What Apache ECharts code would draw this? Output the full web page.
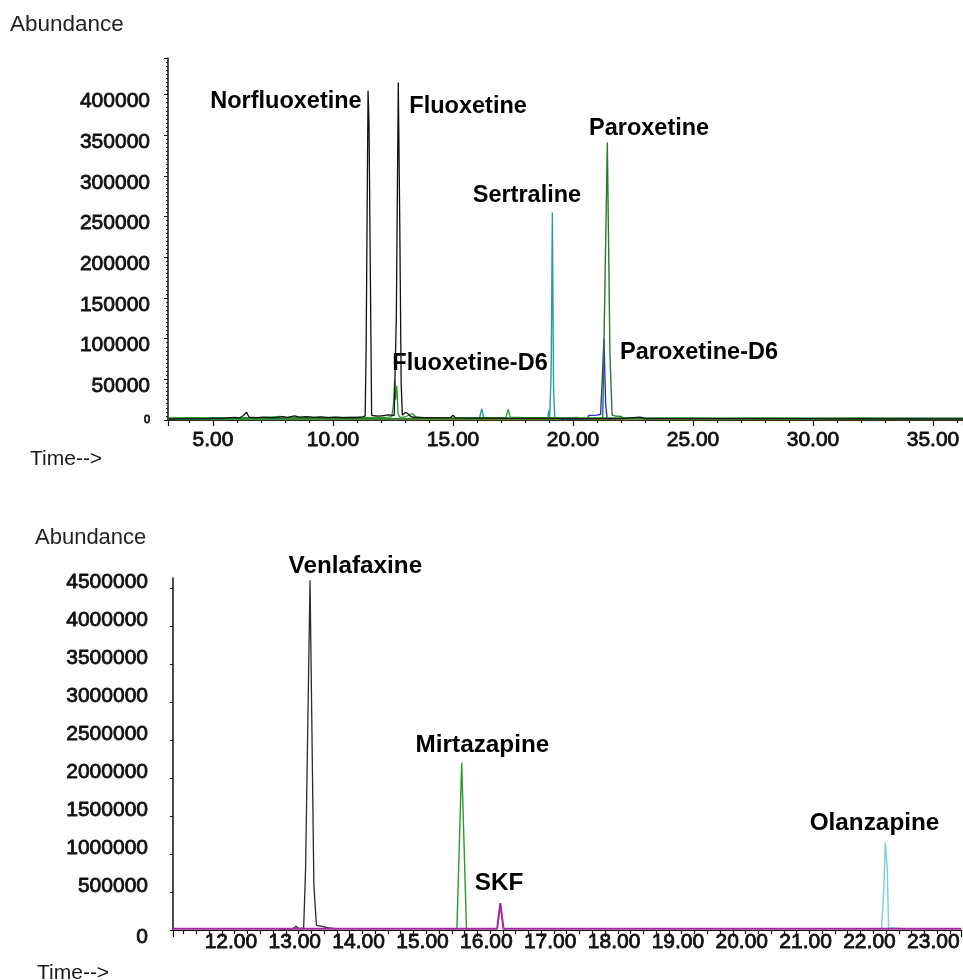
<!DOCTYPE html>
<html>
<head>
<meta charset="utf-8">
<script src="https://cdn.jsdelivr.net/npm/echarts@6/dist/echarts.min.js"></script>
<style>
html,body{margin:0;padding:0;background:#fff;}
#chart{width:963px;height:980px;}
</style>
</head>
<body>
<div id="chart"></div>
<script>
// ---------- Top chromatogram (SSRIs) ----------
const topXRange = [3.125, 36.25];
const topYRange = [0, 445000];
const olivebase = [[3.125, 800], [36.25, 800]];
const magentaTrace = [[19.6, 1000], [19.8, 3000], [20.2, 3200], [20.4, 1000]];
const sertralineTrace = [[3.15, 1000], [6, 1200], [9, 1400], [12, 1600], [15.5, 2000], [16.1, 2200], [16.2, 14000], [16.28, 2500], [17, 2200], [18, 2300], [18.95, 2500], [18.99, 12000], [19.03, 3000], [19.09, 60000], [19.14, 255000], [19.19, 40000], [19.24, 3000], [19.5, 2500], [20.5, 2000], [22, 1800], [36.25, 1800]];
const paroxetineD6Trace = [[19.5, 800], [20.6, 1500], [20.65, 5500], [21.0, 6000], [21.15, 7000], [21.22, 50000], [21.29, 100000], [21.36, 20000], [21.42, 2000], [21.6, 800]];
const paroxetineTrace = [[3.15, 1500], [10, 1500], [19, 1500], [21.1, 1800], [21.24, 3000], [21.43, 341000], [21.54, 80000], [21.63, 6000], [21.75, 5000], [22.0, 4500], [22.1, 2000], [30, 1600], [36.25, 1600]];
const fluoxetineD6Trace = [[3.15, 2500], [4, 2800], [5, 2600], [6, 3000], [7, 2900], [7.8, 4500], [8, 3000], [9, 3200], [10, 3100], [11, 3300], [11.8, 3000], [12.3, 3500], [12.45, 4000], [12.52, 20000], [12.57, 49000], [12.61, 25000], [12.66, 42000], [12.71, 8000], [12.78, 3500], [13, 3500], [13.3, 8000], [13.38, 10000], [13.45, 4000], [13.8, 3000], [14.5, 2900], [15.5, 3000], [16.5, 2800], [17.2, 3000], [17.3, 13000], [17.38, 3500], [18, 3000], [19, 2800], [20, 2600], [21, 2700], [22, 2600], [23, 2500], [24, 2600], [25, 2500], [26, 2400], [28, 2500], [30, 2400], [32, 2500], [34, 2400], [36.25, 2400]];
const fluoxetineTrace = [[3.15, 1200], [3.5, 1500], [3.9, 1300], [4.3, 1800], [4.7, 1600], [5.0, 2200], [5.3, 1900], [5.6, 2600], [5.9, 3200], [6.1, 2500], [6.25, 5200], [6.4, 9500], [6.5, 3400], [6.8, 3000], [7.1, 3600], [7.4, 2800], [7.7, 3300], [7.9, 4200], [8.1, 3100], [8.4, 5000], [8.6, 3500], [8.9, 4100], [9.2, 3200], [9.5, 3900], [9.8, 3000], [10.1, 3500], [10.4, 2900], [10.7, 3300], [11.0, 3100], [11.25, 3800], [11.34, 5000], [11.38, 86000], [11.46, 405000], [11.50, 366000], [11.55, 200000], [11.61, 6000], [11.7, 5200], [11.9, 4800], [12.1, 5500], [12.3, 6200], [12.55, 5800], [12.60, 6000], [12.64, 130000], [12.72, 415000], [12.78, 247000], [12.84, 45000], [12.89, 6000], [13.0, 9000], [13.1, 8500], [13.25, 4000], [13.5, 3000], [14, 2800], [14.5, 2500], [14.9, 3000], [15.0, 6000], [15.1, 2600], [15.6, 2400], [16.2, 2300], [16.8, 2200], [17.5, 2100], [18.2, 2000], [19, 2000], [20, 1800], [21, 1700], [22, 1800], [22.8, 3500], [23, 1800], [24, 1700], [25, 1600], [26, 1800], [27, 1700], [28, 1600], [29, 1700], [30, 1600], [31, 1500], [32, 1600], [33, 1500], [34, 1600], [35, 1500], [36, 1400], [36.25, 1400]];
const topLabels = [
  {name: 'Norfluoxetine', value: [8.04, 391400]},
  {name: 'Fluoxetine', value: [15.63, 385200]},
  {name: 'Sertraline', value: [18.08, 275700]},
  {name: 'Paroxetine', value: [23.17, 358200]},
  {name: 'Fluoxetine-D6', value: [15.71, 68900]},
  {name: 'Paroxetine-D6', value: [25.25, 82500]}
];

// ---------- Bottom chromatogram ----------
const botXRange = [11.234, 23.58];
const botYRange = [0, 4630000];
const skfTrace = [[11.234, 15000], [13, 15000], [15, 15000], [16.31, 15000], [16.36, 355000], [16.41, 15000], [18, 15000], [20, 15000], [22, 15000], [23.58, 15000]];
const venlafaxineTrace = [[12.9, 12000], [13.12, 20000], [13.16, 50000], [13.2, 20000], [13.28, 20000], [13.31, 800000], [13.38, 4600000], [13.44, 600000], [13.48, 60000], [13.55, 50000], [13.65, 30000], [13.8, 15000]];
const mirtazapineTrace = [[15.5, 15000], [15.68, 15000], [15.755, 2200000], [15.83, 15000], [16.0, 15000]];
const olanzapineTrace = [[22.2, 15000], [22.33, 20000], [22.36, 440000], [22.39, 1150000], [22.42, 790000], [22.44, 30000], [22.6, 20000], [22.7, 15000]];
const botLabels = [
  {name: 'Venlafaxine', value: [14.09, 4789000]},
  {name: 'Mirtazapine', value: [16.08, 2434000]},
  {name: 'SKF', value: [16.34, 618400]},
  {name: 'Olanzapine', value: [22.22, 1408000]}
];

const FONT = '"Liberation Sans", Arial, sans-serif';
const chart = echarts.init(document.getElementById('chart'), null, {renderer: 'canvas'});

function line(data, color, xi, width, z) {
  return {type: 'line', data: data, xAxisIndex: xi, yAxisIndex: xi, showSymbol: false, symbol: 'none',
    lineStyle: {color: color, width: width || 1.2}, silent: true, z: z || 2, animation: false};
}
function labels(data, xi, size) {
  return {type: 'scatter', data: data, xAxisIndex: xi, yAxisIndex: xi, symbolSize: 0, clip: false, silent: true, z: 10,
    itemStyle: {opacity: 1},
    label: {show: true, position: 'inside', formatter: '{b}', color: '#000', fontFamily: FONT, fontWeight: 'bold', fontSize: size}};
}
const tickLabel = {color: '#111', fontFamily: FONT, fontSize: 21, textBorderColor: '#111', textBorderWidth: 0.8};
const richTxt = {fontFamily: FONT, fontSize: 21, color: '#111', textBorderColor: '#111', textBorderWidth: 0.8};

const option = {
  backgroundColor: '#fff',
  animation: false,
  grid: [
    {left: 168, right: 0, top: 58, bottom: 560},
    {left: 173, right: 0, top: 578, bottom: 50}
  ],
  xAxis: [
    {type: 'value', gridIndex: 0, min: topXRange[0], max: topXRange[1], minInterval: 5, maxInterval: 5, splitNumber: 7,
      axisLine: {lineStyle: {color: '#111', width: 1}}, splitLine: {show: false},
      axisTick: {length: 6, lineStyle: {color: '#111', width: 1.2}},
      minorTick: {show: true, splitNumber: 5, length: 3, lineStyle: {color: '#111', width: 1.2}},
      axisLabel: Object.assign({margin: 10, showMinLabel: false, showMaxLabel: false, formatter: v => v.toFixed(2)}, tickLabel)},
    {type: 'value', gridIndex: 1, min: botXRange[0], max: botXRange[1], minInterval: 1, maxInterval: 1, splitNumber: 12,
      axisLine: {lineStyle: {color: '#111', width: 1}}, splitLine: {show: false},
      axisTick: {length: 7, lineStyle: {color: '#111', width: 1.2}},
      minorTick: {show: true, splitNumber: 5, length: 4, lineStyle: {color: '#111', width: 1.2}},
      axisLabel: Object.assign({margin: 2, showMinLabel: false, showMaxLabel: false, padding: [0, 0, 0, 18], formatter: v => v.toFixed(2)}, tickLabel)}
  ],
  yAxis: [
    {type: 'value', gridIndex: 0, min: topYRange[0], max: topYRange[1], minInterval: 50000, maxInterval: 50000,
      axisLine: {show: true, lineStyle: {color: '#111', width: 1.5}}, splitLine: {show: false},
      axisTick: {show: true, length: 4, lineStyle: {color: '#111', width: 1}},
      minorTick: {show: true, splitNumber: 10, length: 2, lineStyle: {color: '#111', width: 1}},
      axisLabel: Object.assign({margin: 18, showMaxLabel: false,
        formatter: v => v === 0 ? '{s|0}' : '{n|' + v + '}',
        rich: {s: {fontSize: 11, fontFamily: FONT, color: '#1a1a1a'}, n: Object.assign({padding: [14, 0, 0, 0]}, richTxt)}}, tickLabel)},
    {type: 'value', gridIndex: 1, min: botYRange[0], max: botYRange[1], interval: 500000,
      axisLine: {show: true, lineStyle: {color: '#111', width: 1.5}}, splitLine: {show: false},
      axisTick: {show: true, length: 3, lineStyle: {color: '#111', width: 1}},
      axisLabel: Object.assign({margin: 25, showMaxLabel: false,
        formatter: v => v === 0 ? '{z|0}' : '{n|' + v + '}',
        rich: {z: Object.assign({padding: [14, 0, 0, 0]}, richTxt), n: Object.assign({padding: [0, 0, 12, 0]}, richTxt)}}, tickLabel)}
  ],
  graphic: [
    {type: 'text', left: 10, top: 13, style: {text: 'Abundance', font: '22.5px ' + FONT, fill: '#222'}},
    {type: 'text', left: 30, top: 449, style: {text: 'Time-->', font: '21px ' + FONT, fill: '#1a1a1a'}},
    {type: 'text', left: 35, top: 527, style: {text: 'Abundance', font: '22px ' + FONT, fill: '#222'}},
    {type: 'text', left: 37, top: 963, style: {text: 'Time-->', font: '21px ' + FONT, fill: '#1a1a1a'}}
  ],
  series: [
    line(olivebase, '#9a8a2e', 0, 2, 1),
    line(magentaTrace, '#c040c0', 0, 1.2, 2),
    line(sertralineTrace, '#2a9ca0', 0, 1.4, 3),
    line(paroxetineD6Trace, '#2b2fc0', 0, 1.4, 4),
    line(paroxetineTrace, '#2c7a2c', 0, 1.4, 5),
    line(fluoxetineD6Trace, '#22a022', 0, 1.3, 6),
    line(fluoxetineTrace, '#111111', 0, 1.3, 7),
    labels(topLabels, 0, 23.5),
    line(venlafaxineTrace, '#2a2a2a', 1, 1.3, 3),
    line(mirtazapineTrace, '#2a9a2a', 1, 1.4, 3),
    line(olanzapineTrace, '#78cde8', 1, 1.4, 3),
    line(skfTrace, '#a4279f', 1, 2, 4),
    labels(botLabels, 1, 24.3)
  ]
};
chart.setOption(option);
</script>
</body>
</html>
